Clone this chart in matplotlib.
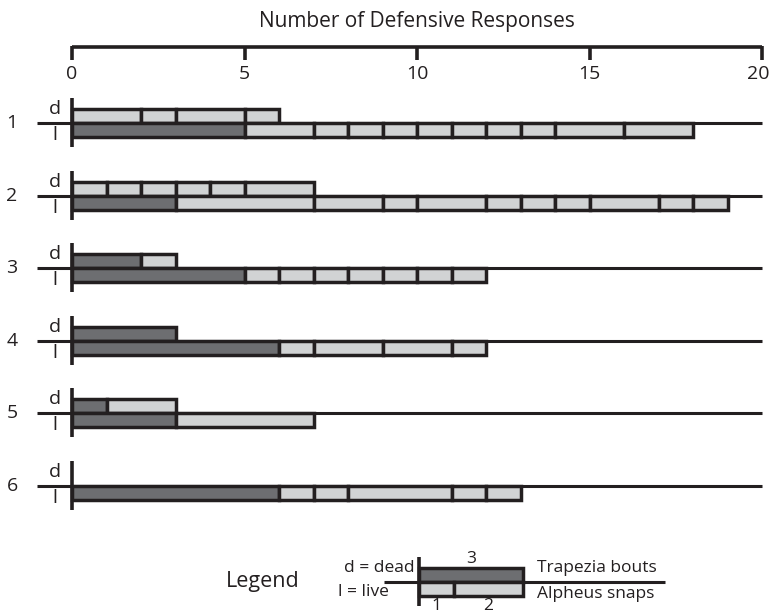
import matplotlib.pyplot as plt

plt.rcParams['font.family'] = ['Open Sans', 'DejaVu Sans']

groups = ['1', '2', '3', '4', '5', '6']
# Trapezia bouts (dark) and Alpheus snaps (light, one entry per segment)
dead_bouts = [0, 0, 2, 3, 1, 0]
dead_snaps = [[2, 1, 2, 1], [1, 1, 1, 1, 1, 2], [1], [], [2], []]
live_bouts = [5, 3, 5, 6, 3, 6]
live_snaps = [[2, 1, 1, 1, 1, 1, 1, 1, 2, 2],
              [4, 2, 1, 2, 1, 1, 1, 2, 1, 1],
              [1, 1, 1, 1, 1, 1, 1],
              [1, 2, 2, 1],
              [4],
              [1, 1, 3, 1, 1]]
xticks = [0, 5, 10, 15, 20]
legend_bouts = [3]
legend_snaps = [1, 2]

dark = '#6d6e71'
light = '#d1d3d4'
ink = '#231f20'

W, H = 771, 615
x0, ppu = 72, 34.5          # pixel of 0 and pixels per unit
fig = plt.figure(figsize=(W / 100, H / 100), dpi=100)
ax = fig.add_axes([0, 0, 1, 1])
ax.set_xlim(-x0 / ppu, (W - x0) / ppu)
ax.set_ylim(H, 0)
ax.axis('off')

bh = 14
lw = 2.5
fs = 14


def draw_row(y, bouts, snaps, above):
    # y is the baseline; bars sit above (dead) or below (live)
    yc = y - bh / 2 if above else y + bh / 2
    segs = []
    if bouts:
        segs.append((0, bouts, dark))
    left = bouts
    for s in snaps:
        segs.append((left, s, light))
        left += s
    for l, w, c in segs:
        ax.barh(yc, w, left=l, height=bh, color=c, edgecolor=ink,
                linewidth=lw, zorder=3)


def draw_group(y, db, ds, lb, ls, line_end=20, line_start=-35 / ppu):
    ax.plot([line_start, line_end], [y, y], color=ink, lw=2.2, zorder=2,
            solid_capstyle='butt')
    ax.plot([0, 0], [y - 25, y + 24], color=ink, lw=2.6, zorder=4,
            solid_capstyle='butt')
    draw_row(y, db, ds, True)
    draw_row(y, lb, ls, False)


# top axis
ax_y = 47
ax.plot([0, 20], [ax_y, ax_y], color=ink, lw=2.6, solid_capstyle='butt')
for t in xticks:
    ax.plot([t, t], [ax_y - 1, ax_y + 13], color=ink, lw=2.6,
            solid_capstyle='butt')
    if t == xticks[-1]:
        ax.text((W - 2 - x0) / ppu, 74, str(t), ha='right', va='center',
                fontsize=fs, color=ink)
    else:
        ax.text(t, 74, str(t), ha='center', va='center', fontsize=fs,
                color=ink)
ax.text(10, 22, 'Number of Defensive Responses', ha='center', va='center',
        fontsize=15, color=ink)

y_first, spacing = 123, 72.6
for i, g in enumerate(groups):
    y = y_first + i * spacing
    draw_group(y, dead_bouts[i], dead_snaps[i], live_bouts[i], live_snaps[i])
    ax.text(-60 / ppu, y, g, ha='center', va='center', fontsize=fs, color=ink)
    ax.text(-17 / ppu, y - 14, 'd', ha='center', va='center', fontsize=fs,
            color=ink)
    ax.text(-17 / ppu, y + 12, 'l', ha='center', va='center', fontsize=fs,
            color=ink)

# legend
ly = 582
lx = (419 - x0) / ppu
ax.plot([(384 - x0) / ppu, (665 - x0) / ppu], [ly, ly], color=ink, lw=2.2,
        zorder=2, solid_capstyle='butt')
ax.plot([lx, lx], [ly - 25, ly + 24], color=ink, lw=2.6, zorder=4,
        solid_capstyle='butt')
ax.barh(ly - bh / 2, legend_bouts[0], left=lx, height=bh, color=dark,
        edgecolor=ink, linewidth=lw, zorder=3)
left = lx
for s in legend_snaps:
    ax.barh(ly + bh / 2, s, left=left, height=bh, color=light, edgecolor=ink,
            linewidth=lw, zorder=3)
    ax.text(left + s / 2, ly + 24, str(s), ha='center', va='center',
            fontsize=12.5, color=ink)
    left += s
ax.text(lx + legend_bouts[0] / 2, ly - 23, str(legend_bouts[0]), ha='center',
        va='center', fontsize=12.5, color=ink)
ax.text((537 - x0) / ppu, ly - 14, 'Trapezia bouts', ha='left', va='center',
        fontsize=12.5, color=ink)
ax.text((537 - x0) / ppu, ly + 12, 'Alpheus snaps', ha='left', va='center',
        fontsize=12.5, color=ink)
ax.text((415 - x0) / ppu, ly - 14, 'd = dead', ha='right', va='center',
        fontsize=12.5, color=ink)
ax.text((338 - x0) / ppu, ly + 10, 'l = live', ha='left', va='center',
        fontsize=12.5, color=ink)
ax.text((263 - x0) / ppu, ly - 1, 'Legend', ha='center', va='center',
        fontsize=15.5, color=ink)

fig.savefig('out.png', dpi=100)
